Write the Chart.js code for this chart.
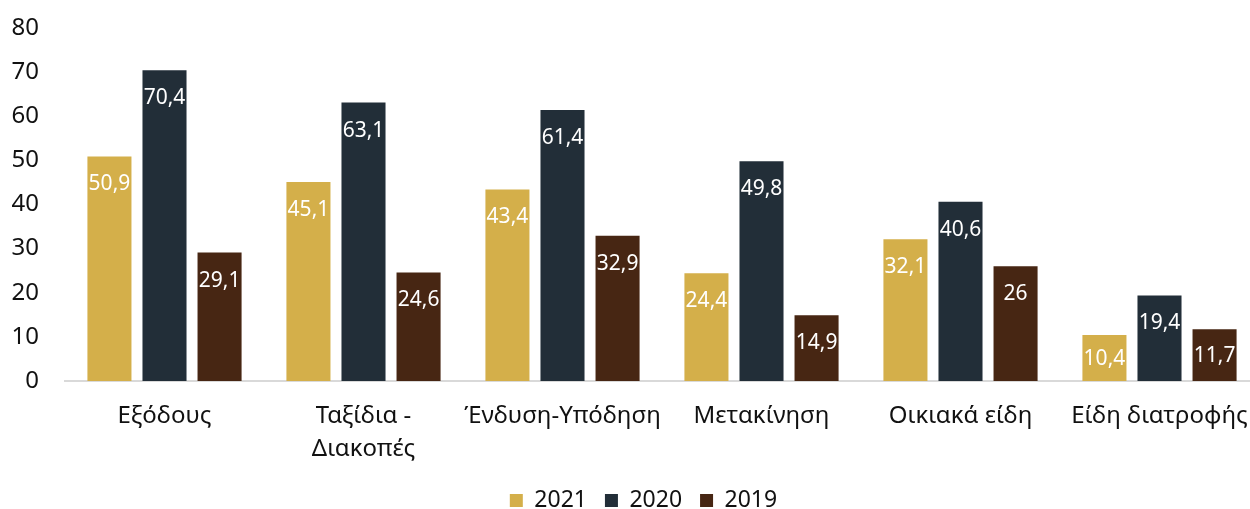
<!DOCTYPE html>
<html>
<head>
<meta charset="utf-8">
<script src="https://cdn.jsdelivr.net/npm/chart.js@4/dist/chart.umd.min.js"></script>
<style>
  html, body { margin: 0; padding: 0; background: #fff; overflow: hidden; }
  #wrap { width: 1288px; height: 522px; position: relative; }
</style>
</head>
<body>
<div id="wrap"><canvas id="c"></canvas></div>
<script>
const categories = [
  "Εξόδους",
  ["Ταξίδια -", "Διακοπές"],
  "Ένδυση-Υπόδηση",
  "Μετακίνηση",
  "Οικιακά είδη",
  "Είδη διατροφής"
];
const seriesNames = ["2021", "2020", "2019"];
const values2021 = [50.9, 45.1, 43.4, 24.4, 32.1, 10.4];
const values2020 = [70.4, 63.1, 61.4, 49.8, 40.6, 19.4];
const values2019 = [29.1, 24.6, 32.9, 14.9, 26, 11.7];
const yTicks = [0, 10, 20, 30, 40, 50, 60, 70, 80];

const colors = ["#D4AF4A", "#222E38", "#472613"];
const FONT = "'Noto Sans', 'DejaVu Sans', sans-serif";

const valueLabels = {
  id: "valueLabels",
  afterDatasetsDraw(chart) {
    const ctx = chart.ctx;
    chart.data.datasets.forEach((ds, di) => {
      const meta = chart.getDatasetMeta(di);
      meta.data.forEach((bar, i) => {
        const v = ds.data[i];
        const props = bar.getProps(["x", "y", "base", "width"], true);
        const h = props.base - props.y;
        const cy = h < 56 ? props.y + h / 2 + 1 : props.y + 28;
        ctx.save();
        ctx.beginPath();
        ctx.rect(props.x - props.width / 2, props.y, props.width, h);
        ctx.clip();
        ctx.fillStyle = "#ffffff";
        ctx.font = "21px " + FONT;
        ctx.textAlign = "center";
        ctx.textBaseline = "middle";
        ctx.fillText(String(v).replace(".", ","), props.x, cy);
        ctx.restore();
      });
    });
  }
};

new Chart(document.getElementById("c"), {
  type: "bar",
  data: {
    labels: categories,
    datasets: [
      { label: seriesNames[0], data: values2021, backgroundColor: colors[0] },
      { label: seriesNames[1], data: values2020, backgroundColor: colors[1] },
      { label: seriesNames[2], data: values2019, backgroundColor: colors[2] }
    ]
  },
  options: {
    responsive: true,
    maintainAspectRatio: false,
    animation: false,
    datasets: { bar: { categoryPercentage: 0.83, barPercentage: 0.8 } },
    layout: { padding: { left: 28, right: 29, top: 0, bottom: 0 } },
    plugins: {
      legend: {
        position: "bottom",
        labels: {
          boxWidth: 13, boxHeight: 13, padding: 18,
          color: "#111", font: { family: FONT, size: 23 }
        }
      },
      tooltip: { enabled: false }
    },
    scales: {
      x: {
        afterFit(scale) { scale.height = 90; },
        grid: { display: false, drawTicks: false },
        border: { display: true, color: "#d9d9d9", width: 2 },
        ticks: {
          color: "#111", font: { family: FONT, size: 24, lineHeight: 1.38 }, padding: 18.5,
          maxRotation: 0, minRotation: 0, autoSkip: false
        }
      },
      y: {
        min: 0, max: 80,
        afterFit(scale) {
          scale.width = 37;
          scale.paddingTop = 28;
          scale.paddingBottom = 14;
          scale._computeLabelArea = function () { return undefined; };
        },
        afterBuildTicks(scale) { scale.ticks = yTicks.map(v => ({ value: v })); },
        grid: { display: false, drawTicks: false },
        border: { display: false },
        ticks: { color: "#111", font: { family: FONT, size: 24 }, padding: 26 }
      }
    }
  },
  plugins: [valueLabels]
});
</script>
</body>
</html>
